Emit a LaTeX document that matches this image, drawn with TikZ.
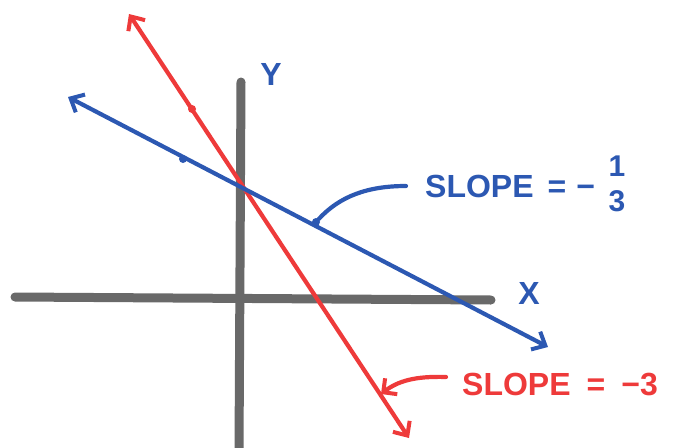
\documentclass[tikz,border=0pt]{standalone}
\usepackage{fontspec}
\setmainfont{Liberation Sans}
\usetikzlibrary{arrows.meta}
\definecolor{penblue}{RGB}{44,88,178}
\definecolor{penred}{RGB}{238,58,58}
\definecolor{axisgray}{RGB}{105,105,105}
\tikzset{
  axisline/.style={axisgray, line width=9pt, line cap=round},
  blueline/.style={penblue, line width=4.2pt, line cap=round, {Straight Barb[length=11pt,width=20pt,line width=4pt]}-{Straight Barb[length=11pt,width=20pt,line width=4pt]}},
  redline/.style={penred, line width=4.2pt, line cap=round, {Straight Barb[length=11pt,width=20pt,line width=4pt]}-{Straight Barb[length=11pt,width=20pt,line width=4pt]}},
  blueleader/.style={penblue, line width=4.2pt, line cap=round},
  redleader/.style={penred, line width=4.2pt, line cap=round, -{Straight Barb[length=10pt,width=20pt,line width=4pt]}},
  bluetext/.style={penblue, font=\fontsize{32}{36}\selectfont\bfseries, inner sep=0pt},
  redtext/.style={penred, font=\fontsize{32}{36}\selectfont\bfseries, inner sep=0pt},
  tickdot/.style={circle, inner sep=0pt, minimum size=8pt},
}
\begin{document}
\begin{tikzpicture}[x=1pt,y=-1pt]
\useasboundingbox (0,0) rectangle (682,447);
% axes
\coordinate (ytop) at (241,82);
\coordinate (ybot) at (239,452);
\coordinate (xl) at (15,297);
\coordinate (xr) at (491,300);
\draw[axisline] (ytop) -- (ybot);
\draw[axisline] (xl) -- (xr);
\node[bluetext] (ylab) at (271,74) {Y};
\node[bluetext] (xlab) at (529,293) {X};
% lines
\coordinate (bstart) at (68,97);
\coordinate (bend) at (548,347);
\coordinate (rstart) at (129,14);
\coordinate (rend) at (409,438);
\draw[redline] (rstart) -- (rend);
\draw[blueline] (bstart) -- (bend);
% small marks on lines
\node[tickdot, fill=penred] (rmark) at (192,109) {};
\node[tickdot, fill=penblue] (bmark1) at (183,159) {};
\node[tickdot, fill=penblue] (bmark2) at (316,222) {};
% labels
\node[bluetext, anchor=west] (bluelab) at (425,186) {SLOPE\hspace{14pt}=\hspace{10pt}−};
\node[penblue, font=\fontsize{30}{32}\selectfont\bfseries, inner sep=0pt] (bnum) at (617,166) {1};
\node[penblue, font=\fontsize{30}{32}\selectfont\bfseries, inner sep=0pt] (bden) at (617,201) {3};
\coordinate (bleadend) at (406,186);
\draw[blueleader] (bmark2) .. controls (340,196) and (368,186) .. (bleadend);
\node[redtext, anchor=west] (redlab) at (462,385) {SLOPE\hspace{16pt}=\hspace{16pt}−3};
\coordinate (rlstart) at (446,377);
\coordinate (rtip) at (381,394);
\draw[redleader] (rlstart) .. controls (415,376) and (398,381) .. (rtip);
\end{tikzpicture}
\end{document}
